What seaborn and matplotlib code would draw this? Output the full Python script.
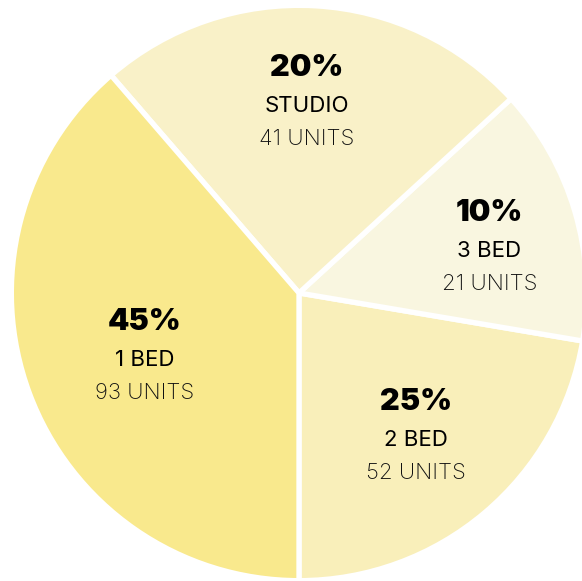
import numpy as np
import matplotlib
matplotlib.use("Agg")
import matplotlib.pyplot as plt
import seaborn as sns

# ---- data ----
categories = ["2 BED", "3 BED", "STUDIO", "1 BED"]
pct_labels = [25, 10, 20, 45]
units = [52, 21, 41, 93]
# visual slice sizes (degrees) as drawn in the reference
slice_sizes = [80.4, 52.1, 88.3, 139.2]

# ---- styles / layout ----
colors = ["#F9EFBA", "#F9F6E0", "#F9F1C8", "#F9E98D"]
label_r = [0.676, 0.68, 0.636, 0.598]
label_dtheta = [-2.8, -5.8, 0.85, 5.0]

sns.set_theme(style="white")
plt.rcParams["font.family"] = ["Inter", "DejaVu Sans"]

W, H, DPI = 582, 581, 100
fig = plt.figure(figsize=(W / DPI, H / DPI), dpi=DPI)
ax = fig.add_axes([0, 0, 1, 1])

R_PX = 285.0
cx, cy = 299.0, 293.0
lw_px = 5.3
wedges, _ = ax.pie(slice_sizes, colors=colors, startangle=-90, counterclock=True,
                   radius=1 + (lw_px / 2) / R_PX,
                   wedgeprops=dict(edgecolor="white", linewidth=lw_px * 72 / DPI))

ax.set_xlim(-cx / R_PX, (W - cx) / R_PX)
ax.set_ylim(-(H - cy) / R_PX, cy / R_PX)
ax.set_aspect("auto")
ax.axis("off")

pct_off = 36 / R_PX
unit_off = 33 / R_PX
for w, cat, p, u, r, dt in zip(wedges, categories, pct_labels, units, label_r, label_dtheta):
    mid = np.deg2rad((w.theta1 + w.theta2) / 2 + dt)
    x, y = r * np.cos(mid), r * np.sin(mid)
    ax.text(x, y + pct_off, f"{p}%", ha="center", va="baseline",
            fontsize=22, fontweight="black", color="black")
    ax.text(x, y, cat, ha="center", va="baseline",
            fontsize=16, fontweight="normal", color="black")
    ax.text(x, y - unit_off, f"{u} UNITS", ha="center", va="baseline",
            fontsize=16, fontweight="light", color="#111111")

fig.savefig("out.png", dpi=DPI, facecolor="white")
